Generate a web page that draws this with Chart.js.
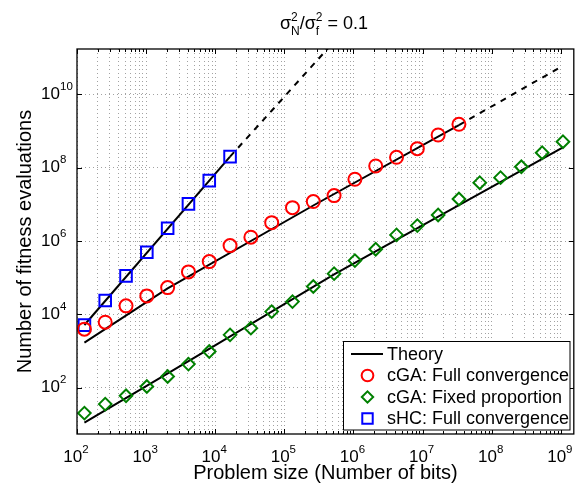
<!DOCTYPE html>
<html>
<head>
<meta charset="utf-8">
<script src="https://cdn.jsdelivr.net/npm/chart.js@4.4.0/dist/chart.umd.min.js"></script>
<style>
  html, body { margin: 0; padding: 0; background: #fff; }
</style>
</head>
<body>
<canvas id="myChart" width="584" height="485"></canvas>
<script>
const FONT = '"Liberation Sans", Arial, sans-serif';

// problem sizes (bits): 2^7 ... 2^30
const sizes = [128, 256, 512, 1024, 2048, 4096, 8192, 16384, 32768, 65536, 131072, 262144,
  524288, 1048576, 2097152, 4194304, 8388608, 16777216, 33554432, 67108864, 134217728,
  268435456, 536870912, 1073741824];

// measured evaluations
const cgaFull = [3950, 6120, 17060, 31900, 53700, 143900, 274800, 750000, 1.27e6, 3.17e6,
  8.13e6, 1.19e7, 1.73e7, 4.83e7, 1.11e8, 1.92e8, 3.30e8, 7.78e8, 1.52e9];
const cgaFixed = [20.3, 35.7, 60.1, 108, 202, 440, 968, 2760, 4210, 11900, 22300, 57500,
  128800, 292400, 598400, 1.47e6, 2.63e6, 5.14e6, 1.40e7, 3.90e7, 5.35e7, 1.06e8, 2.56e8, 5.1e8];
const shcFull = [5080, 23770, 111900, 495500, 2.23e6, 1.03e7, 4.43e7, 2.0e8];

// theory curves (solid = tested range, dashed = extrapolation)
const theoryShcX = [128, 16384];
const theoryShcY = [5130, 2.0e8];
const theoryShcExtX = [16384, 65536, 524288];
const theoryShcExtY = [2.0e8, 3.57e9, 2.75e11];
const theoryCgaX = [128, 2048, 262144, 33554432];
const theoryCgaY = [1700, 51000, 9.3e6, 1.45e9];
const theoryCgaExtX = [33554432, 1073741824];
const theoryCgaExtY = [1.45e9, 6.0e10];
const theoryFixedX = [128, 8192, 524288, 33554432, 1073741824];
const theoryFixedY = [11.2, 1150, 1.23e5, 9.5e6, 3.6e8];

// axes
const xMin = 100, xMax = 1.54e9;
const yMin = 5.47, yMax = 1.72e11;
const xTickExps = [2, 3, 4, 5, 6, 7, 8, 9];
const yTickExps = [2, 4, 6, 8, 10];

const legendLabels = ['Theory', 'cGA: Full convergence', 'cGA: Fixed proportion', 'sHC: Full convergence'];

function pts(xs, ys) {
  return xs.map((x, i) => ({ x: x, y: ys[i] }));
}

let xGridVals = [];
for (let k = 2; k <= 9; k++) {
  for (let m = 1; m <= 9; m++) {
    let v = m * Math.pow(10, k);
    if (v >= xMin && v <= xMax) xGridVals.push(v);
  }
}
const yGridVals = yTickExps.map(e => Math.pow(10, e));

function markerSet(data, color, style, radius) {
  return {
    data: data, showLine: false, pointStyle: style, pointRadius: radius,
    borderColor: color, backgroundColor: 'rgba(0,0,0,0)', pointBorderWidth: 2
  };
}
function theorySet(data, dashed) {
  return {
    data: data, borderColor: '#000', borderWidth: 2, pointRadius: 0,
    borderDash: dashed ? [6, 6] : [], tension: 0, fill: false
  };
}

const extras = {
  id: 'extras',
  afterDraw(chart) {
    const ctx = chart.ctx;
    const a = chart.chartArea;
    const xs = chart.scales.x, ys = chart.scales.y;
    ctx.save();

    // frame + inward ticks
    ctx.strokeStyle = '#000';
    ctx.lineWidth = 1;
    ctx.setLineDash([]);
    ctx.beginPath();
    xGridVals.forEach(v => {
      let px = Math.round(xs.getPixelForValue(v)) + 0.5;
      let len = Math.abs(Math.log10(v) % 1) < 1e-9 ? 5 : 3;
      ctx.moveTo(px, a.bottom); ctx.lineTo(px, a.bottom - len);
      ctx.moveTo(px, a.top); ctx.lineTo(px, a.top + len);
    });
    yGridVals.forEach(v => {
      let py = Math.round(ys.getPixelForValue(v)) + 0.5;
      ctx.moveTo(a.left, py); ctx.lineTo(a.left + 5, py);
      ctx.moveTo(a.right, py); ctx.lineTo(a.right - 5, py);
    });
    ctx.stroke();
    ctx.lineWidth = 1.3;
    ctx.strokeRect(a.left, a.top, a.right - a.left, a.bottom - a.top);

    // tick labels 10^k
    ctx.fillStyle = '#000';
    ctx.textBaseline = 'alphabetic';
    xTickExps.forEach(k => {
      let px = xs.getPixelForValue(Math.pow(10, k));
      ctx.font = '17px ' + FONT;
      let wb = ctx.measureText('10').width;
      ctx.font = '11.5px ' + FONT;
      let we = ctx.measureText(String(k)).width;
      let x0 = px - (wb + we) / 2 - 1;
      ctx.textAlign = 'left';
      ctx.font = '17px ' + FONT;
      ctx.fillText('10', x0, 461.5);
      ctx.font = '11.5px ' + FONT;
      ctx.fillText(String(k), x0 + wb, 452.5);
    });
    yTickExps.forEach(k => {
      let py = ys.getPixelForValue(Math.pow(10, k));
      ctx.font = '17px ' + FONT;
      ctx.textAlign = 'right';
      ctx.fillText('10', 60, py + 4.7);
      ctx.font = '11.5px ' + FONT;
      ctx.textAlign = 'left';
      ctx.fillText(String(k), 60, py - 4.3);
    });

    // title with super/subscripts
    const big = '18px ' + FONT, small = '12px ' + FONT;
    const parts = [
      { t: '\u03c3', f: big },
      { sup: '2', sub: 'N' },
      { t: '/', f: big },
      { t: '\u03c3', f: big },
      { sup: '2', sub: 'f' },
      { t: ' = 0.1', f: big }
    ];
    let total = 0;
    parts.forEach(p => {
      if (p.sup) {
        ctx.font = small;
        p.w = Math.max(ctx.measureText(p.sup).width, ctx.measureText(p.sub).width);
      } else {
        ctx.font = p.f;
        p.w = ctx.measureText(p.t).width;
      }
      total += p.w;
    });
    let tx = 324 - total / 2;
    const base = 28.5;
    ctx.textAlign = 'left';
    parts.forEach(p => {
      if (p.sup) {
        ctx.font = small;
        ctx.fillText(p.sup, tx, base - 7.5);
        ctx.fillText(p.sub, tx, base + 6.5);
      } else {
        ctx.font = p.f;
        ctx.fillText(p.t, tx, base);
      }
      tx += p.w;
    });

    // legend box
    const lx = 343.5, ly = 341.5, lw = 226.5, lh = 88.5;
    ctx.fillStyle = '#fff';
    ctx.fillRect(lx, ly, lw, lh);
    ctx.strokeStyle = '#000';
    ctx.lineWidth = 1;
    ctx.strokeRect(lx, ly, lw, lh);
    const rowY = [354, 375.5, 397, 418.5];
    const textX = 387;
    ctx.font = '18px ' + FONT;
    ctx.fillStyle = '#000';
    ctx.textBaseline = 'middle';
    legendLabels.forEach((lab, i) => ctx.fillText(lab, textX, rowY[i] + 1));
    ctx.lineWidth = 2;
    ctx.beginPath();
    ctx.moveTo(351, rowY[0]); ctx.lineTo(383, rowY[0]);
    ctx.stroke();
    const mk = chart.data.datasets.slice(0, 3);
    mk.forEach((ds, i) => {
      ctx.strokeStyle = ds.borderColor;
      ctx.fillStyle = 'rgba(0,0,0,0)';
      ctx.lineWidth = ds.pointBorderWidth;
      Chart.helpers.drawPoint(ctx, { pointStyle: ds.pointStyle, radius: ds.pointRadius * 0.9, borderWidth: ds.pointBorderWidth },
        367.5, rowY[i + 1]);
    });
    ctx.restore();
  }
};

new Chart(document.getElementById('myChart'), {
  type: 'line',
  data: {
    datasets: [
      markerSet(pts(sizes.slice(0, 19), cgaFull), '#ff0000', 'circle', 6.5),
      markerSet(pts(sizes, cgaFixed), '#008000', 'rectRot', 6.3),
      markerSet(pts(sizes.slice(0, 8), shcFull), '#0000ff', 'rect', 8.2),
      theorySet(pts(theoryShcX, theoryShcY), false),
      theorySet(pts(theoryShcExtX, theoryShcExtY), true),
      theorySet(pts(theoryCgaX, theoryCgaY), false),
      theorySet(pts(theoryCgaExtX, theoryCgaExtY), true),
      theorySet(pts(theoryFixedX, theoryFixedY), false)
    ]
  },
  options: {
    responsive: false,
    animation: false,
    devicePixelRatio: 1,
    events: [],
    layout: { padding: { left: 0, right: 8, top: 49, bottom: 0 } },
    plugins: { legend: { display: false }, tooltip: { enabled: false } },
    scales: {
      x: {
        type: 'logarithmic', min: xMin, max: xMax,
        afterBuildTicks: s => { s.ticks = xGridVals.map(v => ({ value: v })); },
        afterFit: s => { s.height = 51; },
        ticks: { display: false },
        grid: { color: '#a2a2a2', lineWidth: 1, drawTicks: false },
        border: { display: false, dash: [1, 3] },
        title: {
          display: true, text: 'Problem size (Number of bits)', color: '#000',
          font: { family: FONT, size: 20 }, padding: { top: 0, bottom: 0 }
        }
      },
      y: {
        type: 'logarithmic', min: yMin, max: yMax,
        afterBuildTicks: s => { s.ticks = yGridVals.map(v => ({ value: v })); },
        afterFit: s => { s.width = 77; },
        ticks: { display: false },
        grid: { color: '#a2a2a2', lineWidth: 1, drawTicks: false },
        border: { display: false, dash: [1, 3] },
        title: {
          display: true, text: 'Number of fitness evaluations', color: '#000',
          font: { family: FONT, size: 20 }, padding: { top: 13, bottom: 0 }
        }
      }
    }
  },
  plugins: [extras]
});
</script>
</body>
</html>
